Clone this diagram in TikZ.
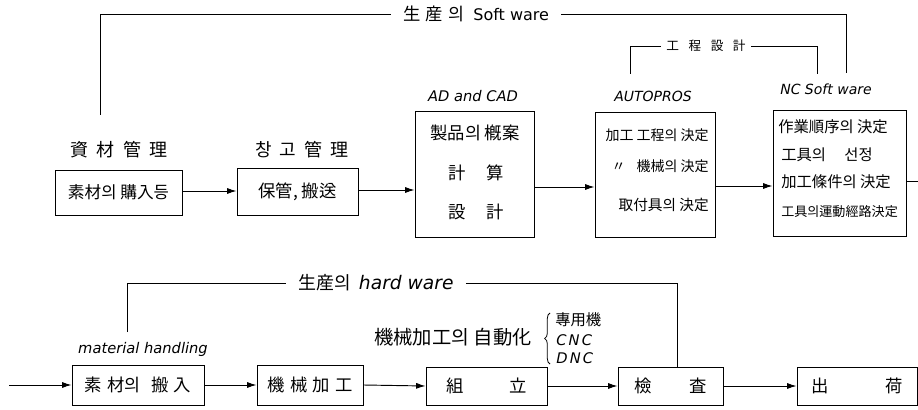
\documentclass[tikz,border=0pt]{standalone}
\usepackage{fontspec}
\usetikzlibrary{arrows.meta,decorations.pathreplacing}
\newfontfamily\kr{Noto Sans CJK KR}
\newfontfamily\lat{DejaVu Sans}
\newcommand\gapS{\hspace{0.45em}}
\newcommand\gapL{\hspace{0.75em}}
\newcommand\fs[1]{\fontsize{#1}{#1}\selectfont}
\begin{document}
\begin{tikzpicture}[x=0.75pt,y=-0.75pt,
  box/.style={draw, line width=0.7pt, inner sep=0pt, font={\kr\fs{12.5}}},
  kt/.style={inner sep=0pt, font={\kr\fs{12}}},
  head/.style={inner sep=0pt, font={\kr\fs{13.5}}},
  lab/.style={inner sep=0pt, font={\lat\itshape\fs{10.5}}},
  ln/.style={line width=0.7pt},
  arr/.style={line width=0.7pt, -{Latex[length=7pt,width=4.5pt]}}]
\useasboundingbox (0,0) rectangle (918,410);

% ---------- top row ----------
\node[head] (h1) at (119,150) {資\gapS 材\gapS 管\gapS 理};
\node[head] (h2) at (302,150) {창\gapS 고\gapS 管\gapS 理};
\node[lab, font={\lat\itshape\fs{11}}] (h3) at (473,96) {AD and CAD};
\node[lab] (h4) at (653,96) {AUTOPROS};
\node[lab, font={\lat\itshape\fs{10.5}}] (h5) at (826,89) {NC Soft ware};

\node[box, minimum width=95.25pt, minimum height=33.75pt] (b1) at (118.5,192.5) {素材의 購入등};
\node[box, minimum width=90.75pt, minimum height=35.25pt, font={\kr\fs{13}}] (b2) at (297.5,191.5) {保管,\ 搬送};
\node[box, minimum width=89.25pt, minimum height=94.5pt] (b3) at (474.5,174) {};
\node[box, minimum width=90pt, minimum height=93.75pt] (b4) at (655,174.5) {};
\node[box, minimum width=99.75pt, minimum height=94.5pt] (b5) at (839.5,173) {};

\node[kt, font={\kr\fs{13}}] (b3a) at (475,133) {製品의 槪案};
\node[kt, font={\kr\fs{13}}] (b3b) at (476,173) {計\hspace{1.2em}算};
\node[kt, font={\kr\fs{13}}] (b3c) at (476,212) {設\hspace{1.2em}計};

\node[kt, font={\kr\fs{10.5}}, anchor=east] (b4a) at (709,135) {加工 工程의 決定};
\node[kt, font={\kr\fs{10.5}}, anchor=east] (b4b) at (709,166) {〃\hspace{0.8em}機械의 決定};
\node[kt, font={\kr\fs{11}}, anchor=east] (b4c) at (709,205) {取付具의 決定};

\node[kt, font={\kr\fs{11.5}}, anchor=west] (b5a) at (778,127) {作業順序의 決定};
\node[kt, font={\kr\fs{11.5}}, anchor=west] (b5b) at (781,155) {工具의\hspace{1.2em}선정};
\node[kt, font={\kr\fs{11.5}}, anchor=west] (b5c) at (781,182) {加工條件의 決定};
\node[kt, font={\kr\fs{9.8}}, anchor=west] (b5d) at (781,212) {工具의運動經路決定};

\draw[arr] (b1.east |- 0,191) -- (b2.west |- 0,191);
\draw[arr] (b2.east |- 0,190) -- (b3.west |- 0,190);
\draw[arr] (b3.east |- 0,187) -- (b4.west |- 0,187);
\draw[arr] (b4.east |- 0,186) -- (b5.west |- 0,186);
\coordinate (out0) at (918,181);
\draw[ln] (b5.east |- out0) -- (out0);

% software bracket
\node[inner xsep=9pt, inner ysep=0pt] (soft) at (476,14) {{\kr\fs{13}生\hspace{0.3em}産\hspace{0.3em}의}\hspace{0.7em}{\lat\fs{12}Soft ware}};
\coordinate (s1) at (100,115);
\coordinate (s2) at (100,14);
\coordinate (s3) at (846,14);
\coordinate (s4) at (846,73);
\draw[ln] (s1) -- (s2) -- (soft.west);
\draw[ln] (soft.east) -- (s3) -- (s4);

\node[inner xsep=4pt, inner ysep=0pt, font={\kr\fs{9.5}}] (kd) at (706,46) {工\gapL 程\gapL 設\gapL 計};
\coordinate (k1) at (630,74);
\coordinate (k2) at (630,46);
\coordinate (k3) at (817,46);
\coordinate (k4) at (817,74);
\draw[ln] (k1) -- (k2) -- (kd.west);
\draw[ln] (kd.east) -- (k3) -- (k4);

% ---------- bottom row ----------
\node[box, minimum width=99pt, minimum height=30pt, font={\kr\fs{13}}] (c1) at (138,385) {素\hspace{0.3em}材의\hspace{0.6em}搬\hspace{0.3em}入};
\node[box, minimum width=79.5pt, minimum height=30pt, font={\kr\fs{13}}] (c2) at (310,385) {機\hspace{0.3em}械\hspace{0.3em}加\hspace{0.3em}工};
\node[box, minimum width=90.75pt, minimum height=28.5pt, font={\kr\fs{13}}] (c3) at (486.5,386) {組\hspace{2.6em}立};
\node[box, minimum width=78.75pt, minimum height=28.5pt, font={\kr\fs{13}}] (c4) at (670.5,386) {檢\hspace{2.2em}査};
\node[box, minimum width=90pt, minimum height=28.5pt, font={\kr\fs{13}}] (c5) at (857,386) {出\hspace{3.3em}荷};

\coordinate (in0) at (9,385);
\draw[arr] (in0) -- (c1.west);
\draw[arr] (c1.east) -- (c2.west);
\draw[arr] (c2.east) -- (c3.west);
\draw[arr] (c3.east) -- (c4.west);
\draw[arr] (c4.east) -- (c5.west);

\node[lab, font={\lat\itshape\fs{11}}] (mh) at (143,349) {material handling};
\node[head, font={\kr\fs{14.5}}] (auto) at (453,337) {機械加工의 自動化};
\coordinate (br1) at (550,364);
\coordinate (br2) at (550,313);
\draw[ln, line width=0.6pt, decorate, decoration={brace, amplitude=4pt}] (br1) -- (br2);
\node[kt, font={\kr\fs{11.5}}, anchor=west] (d1) at (555,320) {專用機};
\node[lab, font={\lat\itshape\fs{11}}, anchor=west] (d2) at (556,340) {C\hspace{0.15em}N\hspace{0.15em}C};
\node[lab, font={\lat\itshape\fs{11}}, anchor=west] (d3) at (556,358) {D\hspace{0.15em}N\hspace{0.15em}C};

% hardware bracket
\node[inner xsep=9pt, inner ysep=0pt] (hw) at (376,283) {{\kr\fs{13.5}生産의}\hspace{0.6em}{\lat\itshape\fs{14}hard ware}};
\coordinate (w1) at (127,332);
\coordinate (w2) at (127,283);
\coordinate (w3) at (677,283);
\draw[ln] (w1) -- (w2) -- (hw.west);
\draw[ln] (hw.east) -- (w3) -- (w3 |- c4.north);
\end{tikzpicture}
\end{document}
